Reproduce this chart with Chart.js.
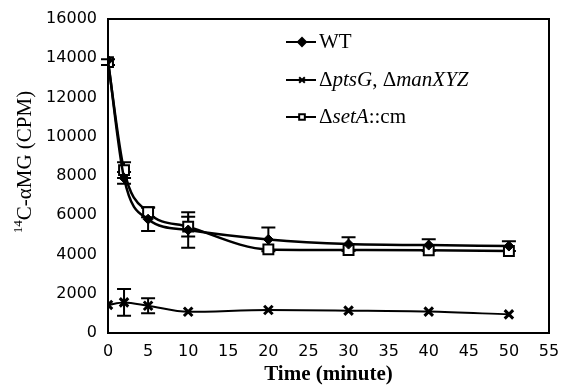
<!DOCTYPE html>
<html>
<head>
<meta charset="utf-8">
<script src="https://cdn.jsdelivr.net/npm/chart.js@4"></script>
<style>
  html, body { margin: 0; padding: 0; background: #fff; }
  #wrap { width: 561px; height: 387px; position: relative; }
</style>
</head>
<body>
<div id="wrap"><canvas id="chart" width="561" height="387"></canvas></div>
<script>
// time points (minutes)
const times = [0, 2, 5, 10, 20, 30, 40, 50];

// 14C-aMG counts (CPM)
const wtValues   = [13900, 7900, 5800, 5250, 4770, 4530, 4480, 4430];
const ptsValues  = [1430, 1560, 1390, 1080, 1170, 1140, 1090, 950];
const setaValues = [13800, 8300, 6150, 5420, 4260, 4230, 4220, 4180];

// error bar half-widths
const wtErr   = [0, 300, 600, 900, 600, 350, 300, 250];
const ptsErr  = [0, 680, 380, 0, 0, 0, 0, 0];
const setaErr = [150, 400, 250, 500, 0, 0, 0, 0];

const xTicks = [0, 5, 10, 15, 20, 25, 30, 35, 40, 45, 50, 55];

function toPoints(vals) {
    return times.map((t, i) => ({ x: t, y: vals[i] }));
}

const seriesErr = [wtErr, ptsErr, setaErr];

// vertical error bars + frame around plot
const errorBars = {
    id: 'errorBars',
    beforeDatasetsDraw(chart) {
        const ctx = chart.ctx;
        const xs = chart.scales.x, ys = chart.scales.y;
        ctx.save();
        ctx.strokeStyle = '#000';
        ctx.lineWidth = 2;
        chart.data.datasets.forEach((ds, di) => {
            const errs = seriesErr[di];
            ds.data.forEach((p, i) => {
                const e = errs[i];
                if (!e) return;
                const px = xs.getPixelForValue(p.x);
                const top = ys.getPixelForValue(p.y + e);
                const bot = ys.getPixelForValue(p.y - e);
                ctx.beginPath();
                ctx.moveTo(px, top); ctx.lineTo(px, bot);
                ctx.moveTo(px - 7, top); ctx.lineTo(px + 7, top);
                ctx.moveTo(px - 7, bot); ctx.lineTo(px + 7, bot);
                ctx.stroke();
            });
        });
        ctx.restore();
    },
    afterDraw(chart) {
        const ctx = chart.ctx;
        const a = chart.chartArea;
        ctx.save();
        ctx.strokeStyle = '#000';
        ctx.lineWidth = 2;
        ctx.strokeRect(a.left, a.top, a.right - a.left, a.bottom - a.top);

        // y axis title with real superscript
        ctx.translate(25, 162);
        ctx.rotate(-Math.PI / 2);
        ctx.fillStyle = '#000';
        ctx.textBaseline = 'middle';
        const sup = '14', main = 'C-\u03b1MG (CPM)';
        ctx.font = '13px "Liberation Serif", serif';
        const wSup = ctx.measureText(sup).width;
        ctx.font = '21px "Liberation Serif", serif';
        const wMain = ctx.measureText(main).width;
        let x = -(wSup + wMain) / 2;
        ctx.font = '13px "Liberation Serif", serif';
        ctx.fillText(sup, x, -6);
        ctx.font = '21px "Liberation Serif", serif';
        ctx.fillText(main, x + wSup, 0);
        ctx.restore();
    }
};

// legend drawn inside the plot, with italic gene names
const customLegend = {
    id: 'customLegend',
    afterDraw(chart) {
        const ctx = chart.ctx;
        const rows = [
            { y: 42, style: 'rectRot', parts: [['', 'WT']] },
            { y: 80, style: 'crossRot', parts: [['', '\u0394'], ['italic ', 'ptsG'], ['', ', \u0394'], ['italic ', 'manXYZ']] },
            { y: 117, style: 'rect', parts: [['', '\u0394'], ['italic ', 'setA'], ['', '::cm']] }
        ];
        ctx.save();
        rows.forEach(r => {
            ctx.strokeStyle = '#000';
            ctx.lineWidth = 2;
            ctx.beginPath();
            ctx.moveTo(286, r.y); ctx.lineTo(316, r.y);
            ctx.stroke();
            const opts = {
                pointStyle: r.style,
                radius: 4,
                borderWidth: r.style === 'crossRot' ? 2.5 : 1.5
            };
            ctx.fillStyle = r.style === 'rect' ? '#fff' : '#000';
            Chart.helpers.drawPoint(ctx, opts, 302, r.y);
            let x = 319;
            ctx.fillStyle = '#000';
            ctx.textBaseline = 'middle';
            r.parts.forEach(([st, txt]) => {
                ctx.font = st + '21px "Liberation Serif", serif';
                ctx.fillText(txt, x, r.y);
                x += ctx.measureText(txt).width;
            });
        });
        ctx.restore();
    }
};

new Chart(document.getElementById('chart').getContext('2d'), {
    type: 'line',
    data: {
        datasets: [
            {
                label: 'WT',
                data: toPoints(wtValues),
                borderColor: '#000',
                backgroundColor: '#000',
                borderWidth: 2.5,
                pointStyle: 'rectRot',
                pointRadius: 5,
                pointBorderWidth: 1,
                cubicInterpolationMode: 'monotone'
            },
            {
                label: '\u0394ptsG, \u0394manXYZ',
                data: toPoints(ptsValues),
                borderColor: '#000',
                backgroundColor: '#000',
                borderWidth: 2,
                pointStyle: 'crossRot',
                pointRadius: 6,
                pointBorderWidth: 3,
                cubicInterpolationMode: 'monotone'
            },
            {
                label: '\u0394setA::cm',
                data: toPoints(setaValues),
                borderColor: '#000',
                backgroundColor: '#fff',
                borderWidth: 2.5,
                pointStyle: 'rect',
                pointRadius: 7,
                pointBorderWidth: 2,
                cubicInterpolationMode: 'monotone'
            }
        ]
    },
    options: {
        responsive: false,
        animation: false,
        layout: { padding: { top: 19, right: 12, left: 12, bottom: 0 } },
        plugins: {
            legend: { display: false },
            tooltip: { enabled: false }
        },
        scales: {
            x: {
                type: 'linear',
                min: 0,
                max: 55,
                afterBuildTicks: (axis) => { axis.ticks = xTicks.map(v => ({ value: v })); },
                afterFit: (axis) => { axis.height = 54; },
                grid: { display: false },
                border: { display: false },
                ticks: {
                    color: '#000',
                    padding: 1,
                    callback: (v) => String(v),
                    font: { family: 'DejaVu Sans', size: 16 }
                },
                title: {
                    display: true,
                    text: 'Time (minute)',
                    color: '#000',
                    padding: { top: 0, bottom: 0 },
                    font: { family: 'Liberation Serif', size: 21, weight: 'bold' }
                }
            },
            y: {
                min: 0,
                max: 16000,
                afterFit: (axis) => { axis.width = 96; },
                grid: { display: false },
                border: { display: false },
                ticks: {
                    stepSize: 2000,
                    color: '#000',
                    padding: 3,
                    callback: (v) => String(v),
                    font: { family: 'DejaVu Sans', size: 16 }
                }
            }
        }
    },
    plugins: [errorBars, customLegend]
});
</script>
</body>
</html>
